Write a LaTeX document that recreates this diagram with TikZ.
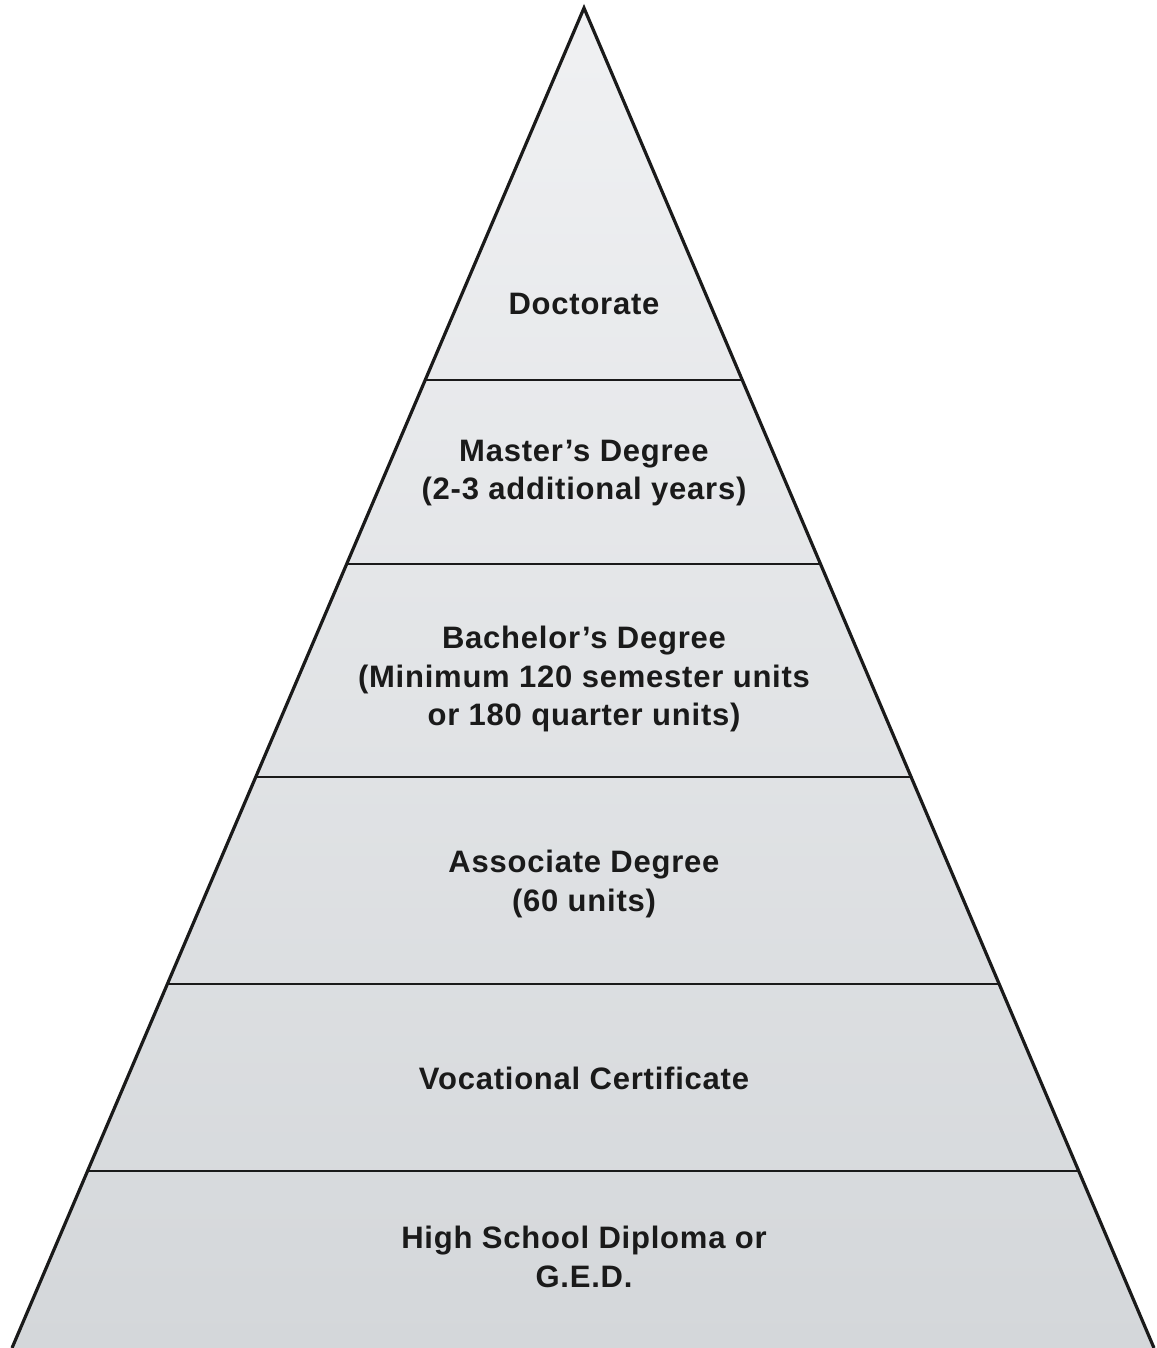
\documentclass[tikz,border=0pt]{standalone}
\usepackage{fontspec}
\setmainfont{Liberation Sans}
\newfontfamily\tierfont[LetterSpace=2.5]{Liberation Sans}
\usetikzlibrary{calc}
\definecolor{txt}{HTML}{1A1A1A}
\definecolor{edge}{HTML}{1A1A1A}
\definecolor{topfill}{HTML}{F0F1F3}
\definecolor{botfill}{HTML}{D4D7DA}
\tikzset{
  tier/.style={font=\tierfont\fontsize{15.5}{19.2}\selectfont\bfseries, text=txt, align=center, inner sep=0pt},
  sideline/.style={draw=edge, line width=1.6pt, line join=miter},
  tierline/.style={draw=edge, line width=1.1pt}
}
\begin{document}
\begin{tikzpicture}[x=0.5pt,y=-0.5pt]
\useasboundingbox (0,0) rectangle (1156,1348);
\coordinate (apex) at (584,8);
\coordinate (bl) at (12,1348);
\coordinate (br) at (1154,1348);
\begin{scope}
  \clip (apex) -- (bl) -- (br) -- cycle;
  \shade[top color=topfill, bottom color=botfill] (0,0) rectangle (1156,1348);
\end{scope}
\foreach \t [count=\i] in {0.2776,0.4149,0.5739,0.7284,0.8679}{
  \coordinate (l\i) at ($(apex)!\t!(bl)$);
  \coordinate (r\i) at ($(apex)!\t!(br)$);
  \draw[tierline] (l\i) -- (r\i);
}
\draw[sideline] (bl) -- (apex) -- (br);
\node[tier] (doc) at (584,304) {Doctorate};
\node[tier] (mas) at (584,473) {Master’s Degree\\(2-3 additional years)};
\node[tier] (bac) at (584,679) {Bachelor’s Degree\\(Minimum 120 semester units\\or 180 quarter units)};
\node[tier] (ass) at (584,884) {Associate Degree\\(60 units)};
\node[tier] (voc) at (584,1078) {Vocational Certificate};
\node[tier] (hs) at (584,1257) {High School Diploma or\\G.E.D.};
\end{tikzpicture}
\end{document}
